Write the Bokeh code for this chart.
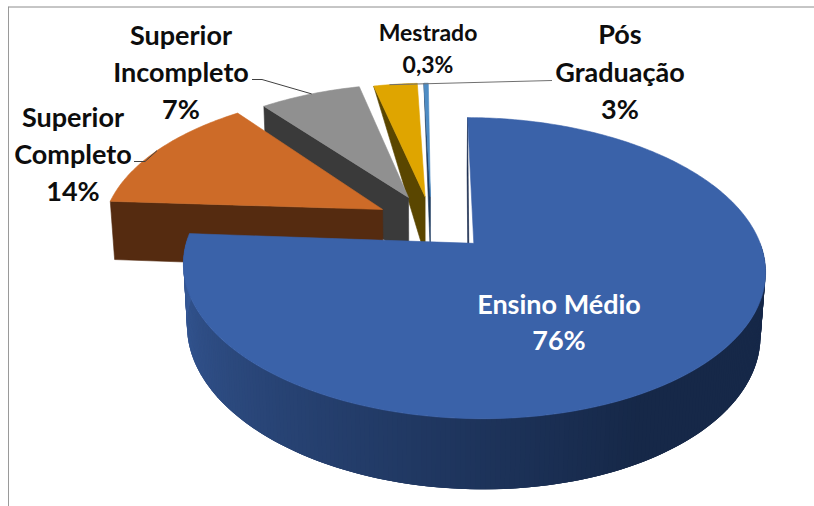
import numpy as np
from bokeh.plotting import figure
from bokeh.core.properties import value
from bokeh.embed import file_html
from bokeh.resources import INLINE

# ---- data ----
categories = ["Ensino Médio", "Superior Completo", "Superior Incompleto", "Pós Graduação", "Mestrado"]
values = [76, 14, 7, 3, 0.3]
face_colors = ["#3a62a9", "#cd6b28", "#909090", "#dfa500", "#4d8cc4"]
wall_colors = ["#14264a", "#552b10", "#3a3a3a", "#5a4600", "#1d3a5f"]
far_depth = [1, 1, 1, 0, 0]
explode = [0.20, 0.225, 0.20, 0.19, 0.19]
angle_nudge = [0, -1, -2, -2, -1.5]
apex_dx = [0.0175, 0.024, 0, 0, 0]
apex_dy = [0, 0.015, 0, 0, 0]
wall_dx = [0, 0.024, 0, 0, 0]

label_lines = ["Ensino Médio", "76%", "Superior", "Completo", "14%", "Superior", "Incompleto", "7%",
               "Mestrado", "0,3%", "Pós", "Graduação", "3%"]
label_x = [560, 560, 74, 74, 74, 182, 182, 182, 429, 429, 621, 621, 621]
label_y = [305, 341, 118, 155, 192, 36, 73, 110, 33, 65, 35, 73, 110]
label_size = ["27px", "27px", "27px", "27px", "27px", "27px", "27px", "27px", "23px", "23px", "27px", "27px", "27px"]
label_color = ["white", "white"] + ["#0d0d0d"] * 11

# ---- projection: pie plane (X right, Y toward viewer, Z depth) to page pixels ----
Cx, Cy, A, B, k, h, m, V, S = 431.0, 223.8, 279.0, 139.3, 0.1605, 0.0153, 0.0143, 61.3, 0.0
start_angle = 1.0


def proj(X, Y, Z=0.0):
    w = 1 - k * Y - h * X + m * Z
    return Cx + (A * X + S * Z) / w, Cy + (B * Y + V * Z) / w


p = figure(width=814, height=506, x_range=(1.5, 815.5), y_range=(508, 2), toolbar_location=None,
           output_backend="svg", min_border=0, outline_line_color=None)
p.axis.visible = False
p.grid.visible = False
p.background_fill_color = "white"
p.border_fill_color = "white"

vals = np.array(values, dtype=float)
angles = start_angle + np.concatenate([[0], np.cumsum(vals / vals.sum() * 360)])


def poly(xs, ys, color, lw=0.6):
    p.patch(list(xs), list(ys), fill_color=color, line_color=color, line_width=lw)


def shade(theta):
    t = np.interp(theta, [90, 150, 275], [0, 0, 1])
    c0, c1 = np.array([0x16, 0x28, 0x48]), np.array([0x38, 0x5c, 0x9c])
    r, g, b = (c0 + (c1 - c0) * t).astype(int)
    return f"#{r:02x}{g:02x}{b:02x}"


rim_points = {}
for i in range(len(values) - 1, -1, -1):
    a0, a1 = angles[i] + angle_nudge[i], angles[i + 1] + angle_nudge[i]
    mid = np.radians((angles[i] + angles[i + 1]) / 2)
    ox, oy = explode[i] * np.sin(mid), -explode[i] * np.cos(mid)
    th = np.radians(np.linspace(a0, a1, max(6, int((a1 - a0) * 1.2))))
    rx, ry = ox + np.sin(th), oy - np.cos(th)
    rim_points[i] = (rx, ry, th)

    # radial wall on the leading edge
    xa, ya = proj(ox + wall_dx[i], oy + apex_dy[i], 1)
    xb, yb = proj(rx[0], ry[0], far_depth[i])
    xt, yt = proj(rx[0], ry[0], 0)
    xo, yo = proj(ox + wall_dx[i], oy + apex_dy[i], 0)
    poly([xo, xt, xb, xa], [yo, yt, yb, ya], wall_colors[i])

    # outer wall, only where it faces the viewer; each quad overlaps the next to hide seams
    for j in range(len(th) - 1):
        if -np.cos(th[j]) <= 0 and -np.cos(th[j + 1]) <= 0:
            continue
        jn = min(j + 3, len(th) - 1)
        x1, y1 = proj(rx[j], ry[j], 0)
        x2, y2 = proj(rx[jn], ry[jn], 0)
        x3, y3 = proj(rx[jn], ry[jn], 1)
        x4, y4 = proj(rx[j], ry[j], 1)
        col = shade(np.degrees(th[j])) if i == 0 else wall_colors[i]
        poly([x1, x2, x3, x4], [y1, y2, y3, y4], col, lw=0)

    # top face
    fx, fy = proj(rx, ry, 0)
    xo, yo = proj(ox + apex_dx[i], oy + apex_dy[i], 0)
    poly(np.r_[xo, fx], np.r_[yo, fy], face_colors[i])

# frame
p.line([9.5, 9.5], [8, 508], line_color="#9a9a9a", line_width=1)
p.line([9.5, 816], [8.5, 8.5], line_color="#8c8c8c", line_width=1)

# leaders: label anchor, elbow, then the rim of the slice
leader_anchor = {1: [(135, 163), (146, 163)], 2: [(253, 81), (263, 81)], 3: [(553, 82)]}
leader_frac = {1: 0.5, 2: 0.55, 3: 0.45}
leader_col = {1: "#404040", 2: "#404040", 3: "#707070"}
for i, pts in leader_anchor.items():
    rx, ry, th = rim_points[i]
    j = int(leader_frac[i] * (len(rx) - 1))
    ex, ey = proj(rx[j], ry[j], 0)
    p.line([q[0] for q in pts] + [float(ex)], [q[1] for q in pts] + [float(ey)],
           line_color=leader_col[i], line_width=1)

p.text(x=label_x, y=label_y, text=label_lines, text_font=value("Lato"), text_font_style="bold",
       text_font_size=label_size, text_color=label_color, text_align="center", text_baseline="middle")

open("out.html", "w").write(file_html(p, INLINE))
